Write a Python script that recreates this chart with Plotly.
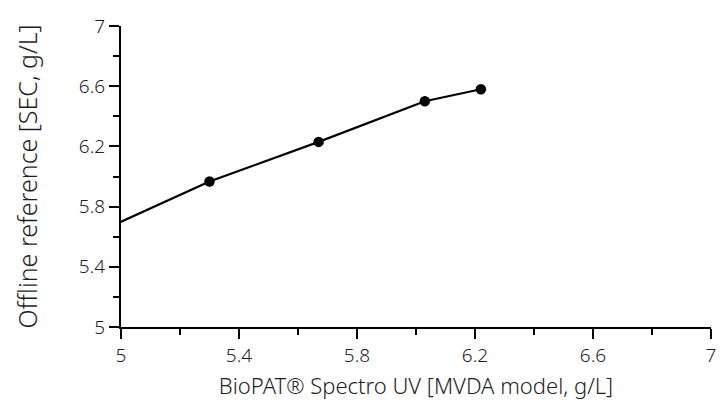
import plotly.graph_objects as go

# data (first point lies just left of the visible range and is clipped)
x_model = [4.90, 5.30, 5.67, 6.03, 6.22]
y_ref = [5.61, 5.967, 6.23, 6.50, 6.58]

tick_vals = [5, 5.4, 5.8, 6.2, 6.6, 7]
tick_text = ["5", "5.4", "5.8", "6.2", "6.6", "7"]

FONT = "Noto Sans"
TXT = "#1e1e1e"

fig = go.Figure()
fig.add_trace(go.Scatter(
    x=x_model, y=y_ref, mode="lines+markers",
    line=dict(color="black", width=2.2),
    marker=dict(color="black", size=10.5),
    cliponaxis=True, showlegend=False,
))

axis_common = dict(
    range=[5, 7], tickvals=tick_vals, ticktext=tick_text,
    ticks="outside", ticklen=10, tickwidth=2, tickcolor="black",
    showline=True, linecolor="black", linewidth=2,
    showgrid=False, zeroline=False, automargin=False,
    ticklabeloverflow="allow",
    tickfont=dict(family=FONT, size=19, color=TXT, weight=300),
    minor=dict(dtick=0.2, tick0=5, ticks="outside", ticklen=6, tickwidth=2,
               tickcolor="black", showgrid=False),
)

# page has an 8px body margin, so the figure is sized to fit the window
fig.update_layout(
    width=708, height=400,
    margin=dict(l=113, r=5, t=18, b=81),
    paper_bgcolor="white", plot_bgcolor="white",
    font=dict(family=FONT, color=TXT),
    xaxis=dict(**axis_common,
               title=dict(text="BioPAT® Spectro UV [MVDA model, g/L]",
                          font=dict(family=FONT, size=22, color=TXT, weight=300),
                          standoff=12)),
    yaxis=dict(**axis_common,
               title=dict(text="Offline reference [SEC, g/L]",
                          font=dict(family=FONT, size=25, color=TXT, weight=300),
                          standoff=34)),
)

fig.write_html("out.html")
